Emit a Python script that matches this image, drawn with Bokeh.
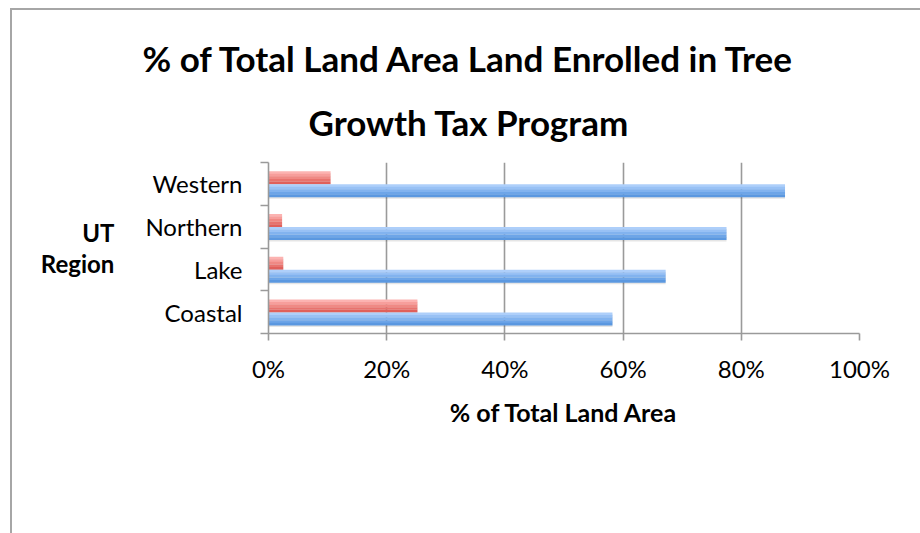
from bokeh.plotting import figure
from bokeh.models import (Range1d, LinearAxis, FixedTicker, PrintfTickFormatter, Legend, LegendItem,
                          Title, ColumnDataSource)
from bokeh.transform import dodge
from bokeh.embed import file_html
from bokeh.resources import INLINE

regions = ["Coastal", "Lake", "Northern", "Western"]
non_tgt = [25.2, 2.5, 2.3, 10.5]
tgt = [58.2, 67.2, 77.5, 87.4]
x_ticks = [0, 20, 40, 60, 80, 100]

FONT = "Lato"
GRAY = "#9a9a9a"

n = len(regions)
centers = [i + 0.5 for i in range(n)]
bounds = list(range(n + 1))

p = figure(frame_width=591, frame_height=171, output_backend="svg", toolbar_location=None,
           y_range=Range1d(0, n), x_range=Range1d(0, 100),
           x_axis_location=None, y_axis_location=None,
           min_border_left=256, min_border_right=61, min_border_top=152, min_border_bottom=190)
p.styles = {"border-left": "2px solid #a6a6a6", "border-top": "2px solid #a6a6a6",
            "margin-left": "10px", "margin-top": "8px"}
p.outline_line_color = None
p.background_fill_color = "white"
p.border_fill_color = "white"

source = ColumnDataSource(dict(pos=centers, region=regions, non=non_tgt, tgt=tgt))

H = 0.30
RED_C, BLUE_C = 0.145, -0.16
# shadows
p.hbar(y=dodge("pos", RED_C - 0.04), left=0, right="non", height=H,
       source=source, fill_color="black", fill_alpha=0.10, line_color=None)
p.hbar(y=dodge("pos", BLUE_C - 0.04), left=0, right="tgt", height=H,
       source=source, fill_color="black", fill_alpha=0.10, line_color=None)

def grad_bar(col, center, colors):
    rs = []
    k = len(colors)
    sh = H / k
    for i, c in enumerate(colors):
        off = center + H / 2 - sh * (i + 0.5)
        r = p.hbar(y=dodge("pos", off), left=0, right=col, height=sh * 1.05,
                   source=source, fill_color=c, line_color=None)
        rs.append(r)
    return rs

red_cols = ["#fcb3b1", "#f79e9b", "#f08984", "#e8736e", "#e0605b"]
blue_cols = ["#aecffa", "#98c1f5", "#82b3ef", "#6da5e8", "#5b98e0"]
red_rs = grad_bar("non", RED_C, red_cols)
blue_rs = grad_bar("tgt", BLUE_C, blue_cols)

p.xgrid.grid_line_color = GRAY
p.xgrid.grid_line_width = 1.6
p.xgrid.ticker = FixedTicker(ticks=x_ticks)
p.ygrid.grid_line_color = None

# x axis
xaxis = LinearAxis(ticker=FixedTicker(ticks=x_ticks), formatter=PrintfTickFormatter(format="%d%%"),
                   axis_label="% of Total Land Area")
xaxis.axis_line_color = GRAY
xaxis.axis_line_width = 1.6
xaxis.major_tick_line_color = GRAY
xaxis.major_tick_line_width = 1.6
xaxis.major_tick_out = 7
xaxis.major_tick_in = 0
xaxis.minor_tick_line_color = None
xaxis.major_label_text_font = FONT
xaxis.major_label_text_font_size = "24px"
xaxis.major_label_text_color = "black"
xaxis.major_label_standoff = 13
xaxis.axis_label_text_font = FONT
xaxis.axis_label_text_font_size = "25px"
xaxis.axis_label_text_font_style = "bold"
xaxis.axis_label_text_color = "black"
xaxis.axis_label_standoff = 11
p.add_layout(xaxis, "below")

# y axis: labels at category centres, ticks at category boundaries
yaxis = LinearAxis(ticker=FixedTicker(ticks=centers, minor_ticks=bounds), axis_label="UT\nRegion")
yaxis.major_label_overrides = {c: r for c, r in zip(centers, regions)}
yaxis.major_tick_line_color = None
yaxis.major_tick_out = 0
yaxis.major_tick_in = 0
yaxis.minor_tick_line_color = GRAY
yaxis.minor_tick_line_width = 1.6
yaxis.minor_tick_out = 8
yaxis.minor_tick_in = 0
yaxis.axis_line_color = GRAY
yaxis.axis_line_width = 1.6
yaxis.major_label_text_font = FONT
yaxis.major_label_text_font_size = "24px"
yaxis.major_label_text_color = "black"
yaxis.major_label_standoff = 18
yaxis.axis_label_orientation = "horizontal"
yaxis.axis_label_text_font = FONT
yaxis.axis_label_text_font_size = "24px"
yaxis.axis_label_text_font_style = "bold"
yaxis.axis_label_text_color = "black"
yaxis.axis_label_text_align = "center"
yaxis.axis_label_text_line_height = 1.05
yaxis.axis_label_standoff = 28
p.add_layout(yaxis, "left")

# title (two centred lines, positioned from the frame's left edge)
t2 = Title(text="Growth Tax Program", align="left", text_font=FONT, text_font_size="35px",
           text_font_style="bold", text_color="black", offset=40, standoff=40)
t1 = Title(text="% of Total Land Area Land Enrolled in Tree", align="left", text_font=FONT,
           text_font_size="35px", text_font_style="bold", text_color="black", offset=-126, standoff=0)
p.add_layout(t2, "above")
p.add_layout(t1, "above")

legend = Legend(items=[LegendItem(label="Non-TGT", renderers=[red_rs[2]]),
                       LegendItem(label="Tree Growth Tax Credit Enrolled Land", renderers=[blue_rs[2]])],
                orientation="horizontal", location="center", margin=20, padding=0,
                label_text_font=FONT, label_text_font_size="24px", label_text_color="black",
                glyph_width=14, glyph_height=14, label_standoff=8, spacing=44,
                border_line_color=None, background_fill_alpha=0)
p.add_layout(legend, "below")

open("out.html", "w").write(file_html(p, INLINE))
